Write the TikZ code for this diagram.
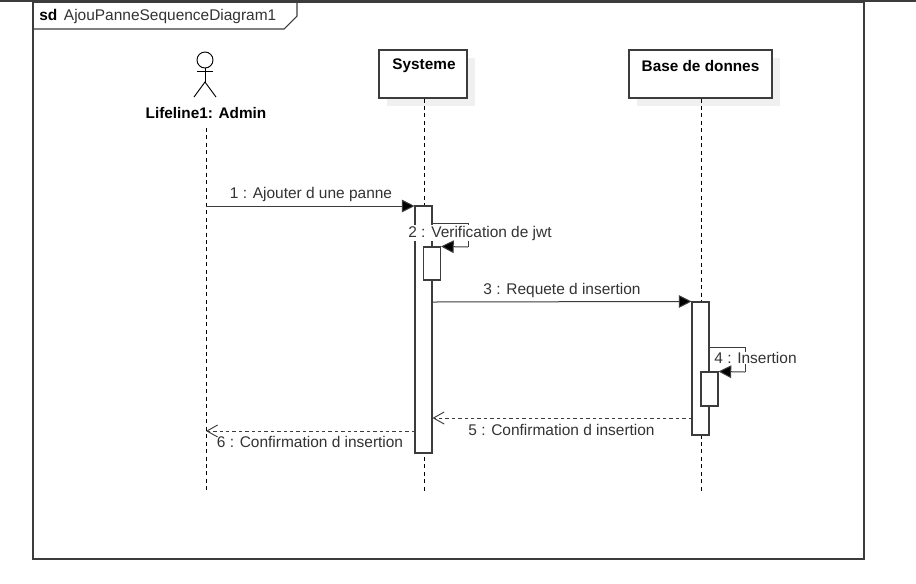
\documentclass[tikz,border=0pt]{standalone}
\usepackage{fontspec}
\setmainfont{Liberation Sans}
\usetikzlibrary{arrows.meta}
\definecolor{umlline}{HTML}{3C3C3C}
\definecolor{umlshadow}{HTML}{F0F0F0}
\definecolor{umltext}{HTML}{333333}
\tikzset{
	lifebox/.style={draw=umlline, fill=white, line width=0.8pt, inner sep=0pt, text=black},
	lifeshadow/.style={fill=umlshadow, inner sep=0pt},
	lifeline/.style={draw=black, line width=0.7pt, dash pattern=on 3pt off 2.6pt},
	activation/.style={draw=umlline, fill=white, line width=0.8pt, inner sep=0pt, minimum width=12.75pt},
	callmsg/.style={draw=umlline, line width=0.75pt, -{Triangle[length=9.5pt,width=9.5pt,fill=black]}},
	replymsg/.style={draw=umlline, line width=0.7pt, dash pattern=on 2.6pt off 2.2pt, -{Straight Barb[length=8pt,width=9pt]}},
	msglabel/.style={text=umltext, inner sep=0pt, font=\fontsize{11.6}{13}\selectfont},
	msglabelbg/.style={msglabel, fill=white, inner xsep=1pt, inner ysep=0.5pt},
	titlelabel/.style={text=black, inner sep=0pt, font=\bfseries\fontsize{11.5}{13}\selectfont}
}
\begin{document}
\begin{tikzpicture}[x=0.75pt, y=-0.75pt]
	\useasboundingbox (0,0) rectangle (916,583);
	\fill[white] (0,0) rectangle (916,583);
	\fill[umlline] (0,0) rectangle (916,2);

	\draw[umlline, line width=0.8pt] (33,2) rectangle (864,559);
	\draw[umlline, line width=0.8pt] (33,29)--(284,29)--(297,16)--(297,2);
	\draw node[msglabel, anchor=west] (frametitle) at (39,16) {\textbf{\textcolor{black}{sd}}\hspace{5pt}AjouPanneSequenceDiagram1};

	\draw node[circle, draw=black, line width=0.7pt, minimum size=12pt, inner sep=0pt] (adminhead) at (205,60) {};
	\coordinate (adminhip) at (205,82);
	\coordinate (adminarml) at (197,71); \coordinate (adminarmr) at (213,71);
	\coordinate (adminlegl) at (194,97); \coordinate (adminlegr) at (216,97);
	\draw[black, line width=0.7pt] (adminhead)--(adminhip);
	\draw[black, line width=0.7pt] (adminarml)--(adminarmr);
	\draw[black, line width=0.7pt] (adminlegl)--(adminhip)--(adminlegr);
	\draw node[titlelabel] (admin) at (206,113) {Lifeline1: Admin};

	\coordinate (adminend) at (206,493); \coordinate (adminstart) at (206,128);
	\coordinate (sysend) at (424,493); \coordinate (baseend) at (701,493);

	\draw node[lifeshadow, minimum width=66pt, minimum height=36pt] (sysshadow) at (431,82) {};
	\draw node[lifeshadow, minimum width=107.25pt, minimum height=36pt] (baseshadow) at (708.5,82) {};
	\draw node[lifebox, minimum width=66pt, minimum height=36pt] (sys) at (423,74) {};
	\draw node[lifebox, minimum width=107.25pt, minimum height=36pt] (base) at (700.5,74) {};
	\draw node[titlelabel] (systitle) at (424,66) {Systeme};
	\draw node[titlelabel] (basetitle) at (700.5,66) {Base de donnes};

	\draw[lifeline] (sys.south -| sysend)--(sysend);
	\draw[lifeline] (base.south -| baseend)--(baseend);
	\draw[lifeline] (adminstart)--(adminend);

	\draw node[activation, minimum height=185.25pt] (sysact) at (423.5,329.5) {};
	\draw node[activation, minimum height=99.75pt] (baseact) at (700.5,368.5) {};

	\coordinate (adminone) at (206,206);
	\draw[callmsg] (adminone)--(adminone -| sysact.west);
	\draw node[msglabel] (msgone) at (311,194.5) {1 : Ajouter d une panne};

	\coordinate (sysloopa) at (468,223); \coordinate (sysloopb) at (468,247);
	\draw[draw=umlline, line width=0.75pt] (sysloopa -| sysact.east)--(sysloopa)--(sysloopb);
	\draw node[msglabelbg] (msgtwo) at (480,233) {2 : Verification de jwt};
	\draw node[activation, minimum height=24.75pt] (sysinner) at (432,263.5) {};
	\draw[callmsg] (sysloopb)--(sysinner.north east);

	\coordinate (systhree) at (432,302);
	\draw[callmsg] (systhree)--(baseact.north west);
	\draw node[msglabel] (msgthree) at (562,290.5) {3 : Requete d insertion};

	\coordinate (baseloopa) at (745,347); \coordinate (baseloopb) at (745,372);
	\draw[draw=umlline, line width=0.75pt] (baseloopa -| baseact.east)--(baseloopa)--(baseloopb);
	\draw node[msglabelbg] (msgfour) at (755.5,358) {4 : Insertion};
	\draw[draw=umlline, line width=0.75pt] (baseact.east |- baseloopa)--(baseact.east |- baseloopb);
	\draw node[activation, minimum height=25.5pt] (baseinner) at (709.5,389) {};
	\draw[callmsg] (baseloopb)--(baseinner.north east);

	\coordinate (basefive) at (692,418);
	\draw[replymsg] (basefive)--(basefive -| sysact.east);
	\draw node[msglabel] (msgfive) at (561.5,430) {5 : Confirmation d insertion};

	\coordinate (syssix) at (415,431);
	\draw[replymsg] (syssix)--(syssix -| adminend);
	\draw node[msglabel] (msgsix) at (310,442) {6 : Confirmation d insertion};
\end{tikzpicture}
\end{document}
